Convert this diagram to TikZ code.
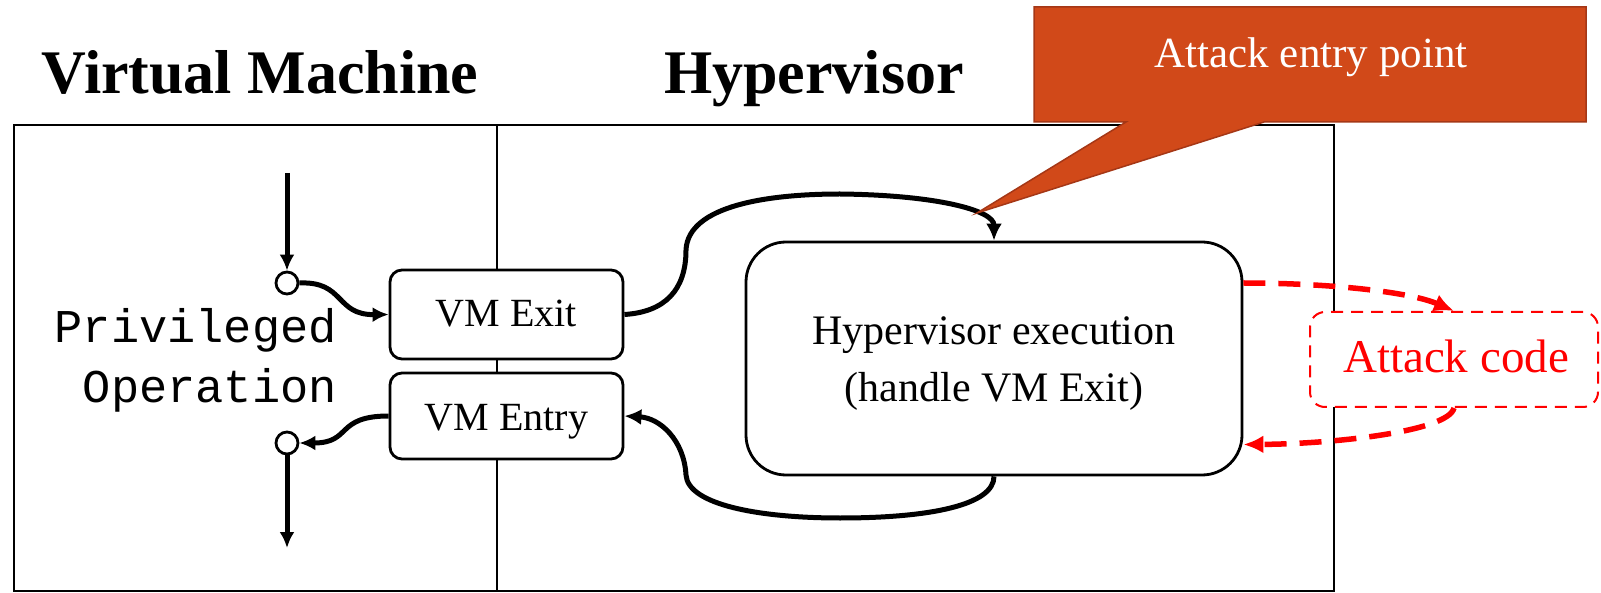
\documentclass[tikz,border=0pt]{standalone}
\usepackage{fontspec}
\setmainfont{Liberation Serif}
\setmonofont{Liberation Mono}
\usetikzlibrary{arrows.meta}
\definecolor{callfill}{RGB}{209,73,25}
\definecolor{calldraw}{RGB}{165,55,22}
\begin{document}
\begin{tikzpicture}[x=1pt,y=-1pt,
  frame/.style={draw=black,line width=2.5pt},
  vmbox/.style={draw=black,line width=2.8pt,fill=white,rounded corners=12pt,minimum width=233pt,inner sep=0pt},
  hypbox/.style={draw=black,line width=2.8pt,fill=white,rounded corners=40pt,minimum width=496pt,minimum height=233pt,inner sep=0pt},
  atkbox/.style={draw=red,line width=2pt,dash pattern=on 12pt off 8pt,fill=white,rounded corners=15pt,minimum width=288pt,minimum height=95pt,inner sep=0pt},
  port/.style={circle,draw=black,line width=2.8pt,fill=white,minimum size=22pt,inner sep=0pt},
  flow/.style={line width=5pt,-{Latex[length=16pt,width=15pt]}},
  bigflow/.style={line width=5pt,-{Latex[length=17pt,width=16pt]}},
  reddash/.style={draw=red,line width=5.5pt,dash pattern=on 22pt off 13pt,-{Latex[length=20pt,width=18pt]}},
  title/.style={font=\bfseries\fontsize{62}{70}\selectfont,anchor=base,inner sep=0pt},
  lbl/.style={font=\fontsize{40}{48}\selectfont,anchor=base,inner sep=0pt}
]
\useasboundingbox (0,0) rectangle (1601,593);
% titles
\node[title] (vmtitle) at (260,94) {Virtual Machine};
\node[title] (hvtitle) at (814,94) {Hypervisor};
% frame
\draw[frame] (14,125) rectangle (1334,591);
\draw[frame] (497,125) -- (497,591);
% coordinates
\coordinate (top) at (287,173);
\coordinate (bot) at (287,548);
% boxes
\node[hypbox] (hyp) at (994,358.5) {};
\node[vmbox,minimum height=89pt] (exit) at (506.5,314.5) {};
\node[vmbox,minimum height=86pt] (entry) at (506.5,416) {};
\node[port] (c1) at (287,283) {};
\node[port] (c2) at (287,443) {};
\draw[bigflow] (exit.east) .. controls (665,312) and (686,290) .. (686,250)
  .. controls (688,205) and (770,194) .. (840,194)
  .. controls (935,195) and (994,210) .. (hyp.north);
\draw[bigflow] (hyp.south) .. controls (994,505) and (930,518) .. (840,518)
  .. controls (760,518) and (688,505) .. (686,475)
  .. controls (684,440) and (660,418) .. (entry.east);
% texts
\node[lbl] (exittext) at (506.5,327) {VM Exit};
\node[lbl] (entrytext) at (506.5,430) {VM Entry};
\node[lbl,font=\fontsize{42}{50}\selectfont] (hyptext1) at (994,345) {Hypervisor execution};
\node[lbl,font=\fontsize{42}{50}\selectfont] (hyptext2) at (994,402) {(handle VM Exit)};
\node[font=\ttfamily\fontsize{47}{60}\selectfont,align=right,anchor=east,inner sep=0pt] (priv) at (337,360) {Privileged\\Operation};
% small flows
\draw[flow] (top) -- (c1.north);
\draw[flow] (c2.south) -- (bot);
\draw[flow] (c1.east) .. controls (345,281) and (335,315) .. (exit.west);
\draw[flow] (entry.west) .. controls (335,416) and (352,443) .. (c2.east);
% attack code
\node[atkbox] (atk) at (1454,359.5) {};
\node[lbl,text=red,font=\fontsize{47}{55}\selectfont] (atktext) at (1456,373) {Attack code};
\draw[reddash] ([yshift=75.5pt]hyp.east) .. controls (1330,283) and (1410,292) .. (atk.north);
\draw[reddash] (atk.south) .. controls (1448,432) and (1330,444) .. ([yshift=-86pt]hyp.east);
% callout
\draw[fill=callfill,draw=calldraw,line width=1.5pt] (1034,7) -- (1586,7) -- (1586,122) -- (1264,122) -- (977,213) -- (1126,122) -- (1034,122) -- cycle;
\node[lbl,text=white,font=\fontsize{43}{50}\selectfont] (calltext) at (1311,68) {Attack entry point};
\end{tikzpicture}
\end{document}
